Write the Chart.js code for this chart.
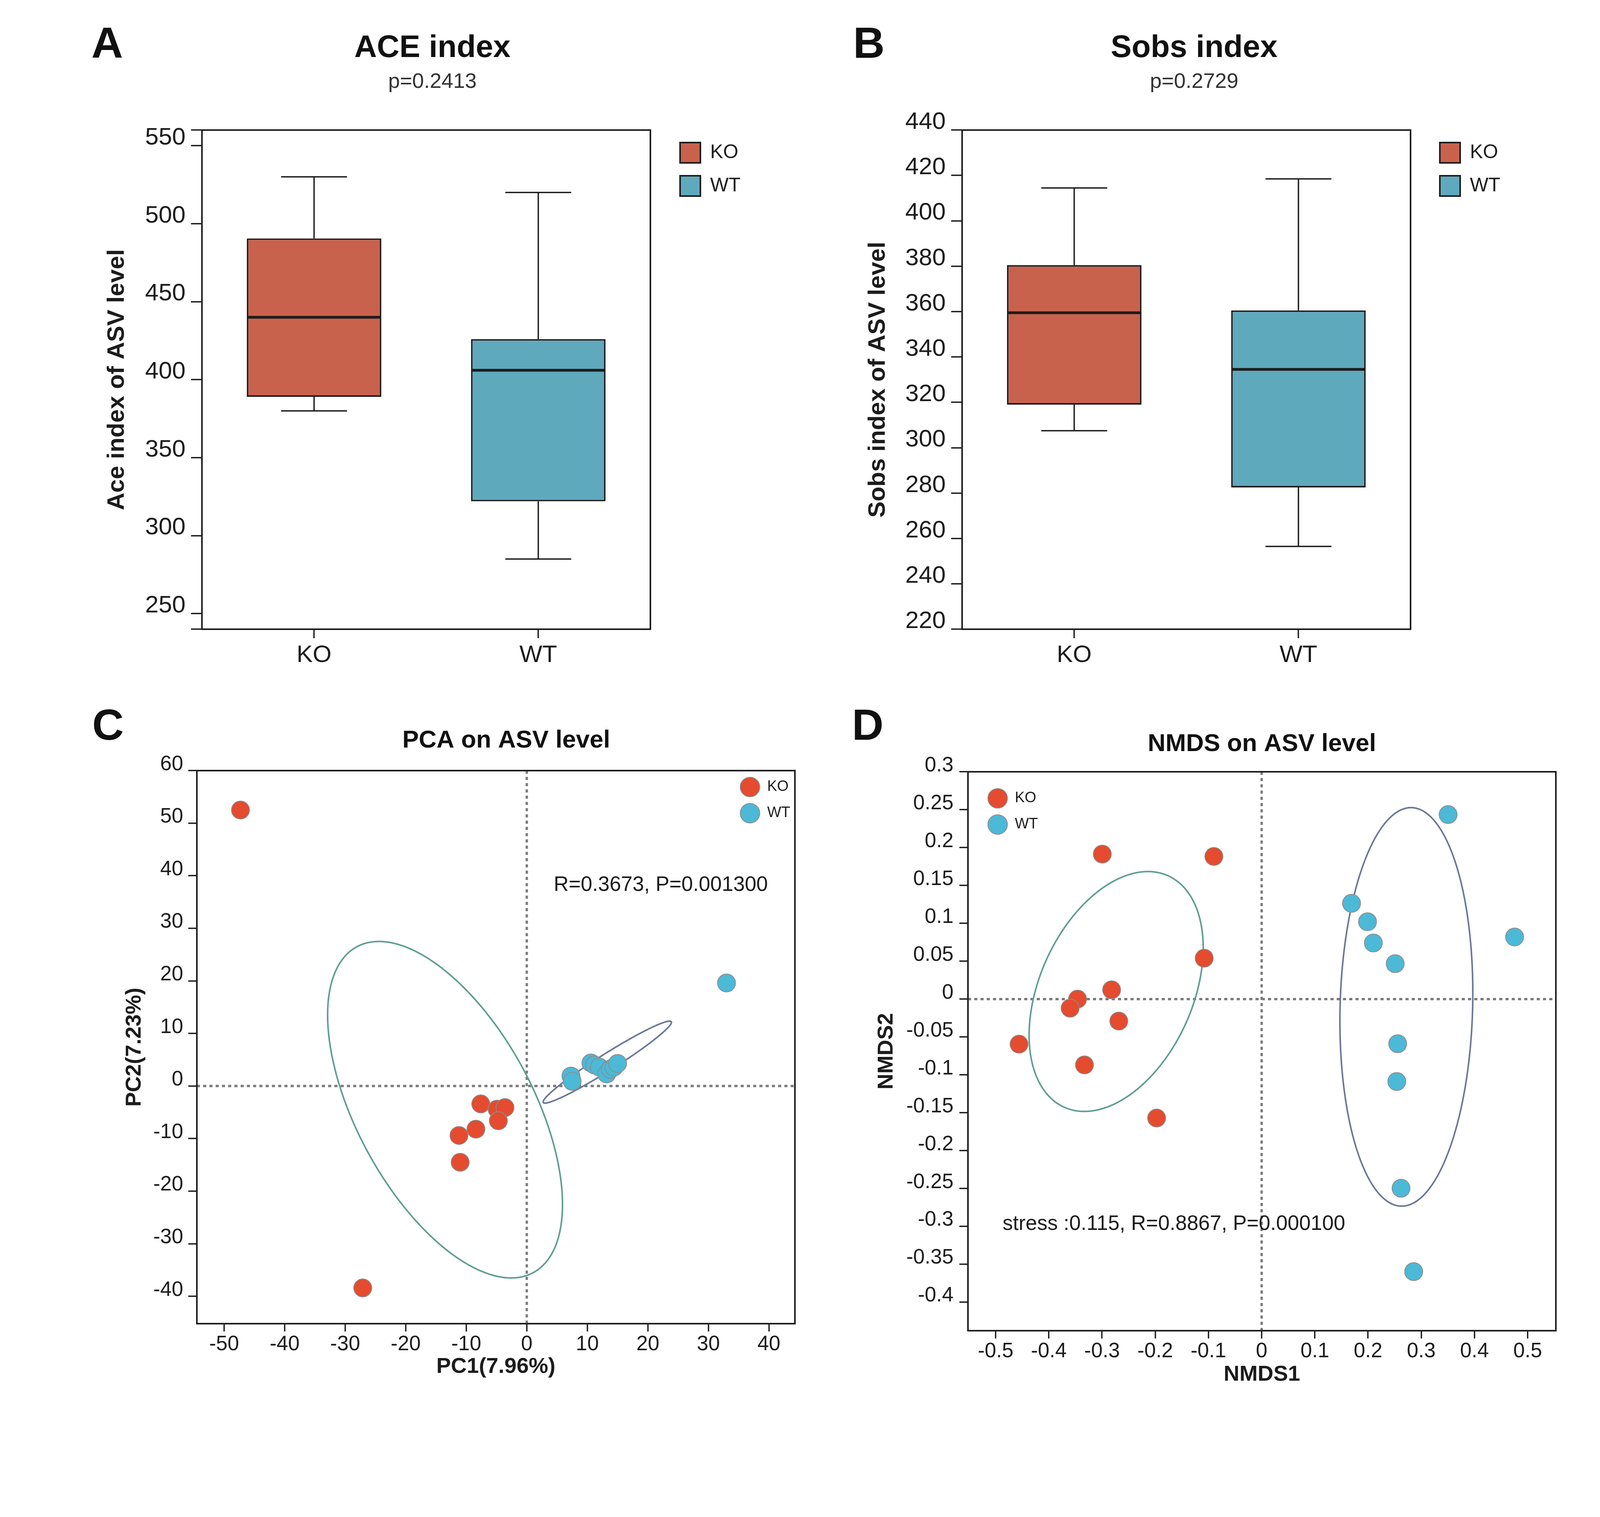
<!DOCTYPE html>
<html>
<head>
<meta charset="utf-8">
<script src="https://cdn.jsdelivr.net/npm/chart.js@4.4.1/dist/chart.umd.min.js"></script>
<style>
html,body{margin:0;padding:0;background:#fff;}
body{width:4534px;height:3884px;position:relative;overflow:hidden;}
canvas{position:absolute;}
.tag{position:absolute;font:bold 112px/1 'Liberation Sans',Arial,Helvetica,sans-serif;color:#111;}
</style>
</head>
<body>
<div class="tag" style="left:234px;top:54px">A</div>
<div class="tag" style="left:2184px;top:54px">B</div>
<div class="tag" style="left:236px;top:1800px">C</div>
<div class="tag" style="left:2181px;top:1800px">D</div>
<canvas id="cA" width="1814" height="1761" style="left:200px;top:0px"></canvas>
<canvas id="cB" width="1822" height="1761" style="left:2146px;top:0px"></canvas>
<canvas id="cC" width="2192" height="1820" style="left:200px;top:1780px"></canvas>
<canvas id="cD" width="2161" height="1840" style="left:2150px;top:1780px"></canvas>
<script>
// ---------------- data ----------------
const groups = ['KO', 'WT'];

// Panel A: ACE index (box plot statistics)
const aceMin    = [380, 285];
const aceQ1     = [389, 322];
const aceMedian = [440, 406];
const aceQ3     = [490.5, 426];
const aceMax    = [530, 520];
const aceTicks  = [250, 300, 350, 400, 450, 500, 550];
const aceRange  = [240, 560];

// Panel B: Sobs index
const sobsMin    = [307.5, 256.5];
const sobsQ1     = [319, 282.5];
const sobsMedian = [359.5, 334.5];
const sobsQ3     = [380.5, 360.5];
const sobsMax    = [414.5, 418.5];
const sobsTicks  = [220, 240, 260, 280, 300, 320, 340, 360, 380, 400, 420, 440];
const sobsRange  = [220, 440];

// Panel C: PCA
const pcaKoX = [-47.3, -27.1, -7.6, -4.9, -3.6, -4.7, -8.4, -11.2, -11.0];
const pcaKoY = [52.5, -38.4, -3.4, -4.4, -4.1, -6.6, -8.2, -9.4, -14.5];
const pcaWtX = [33.0, 7.3, 7.5, 10.6, 11.2, 12.0, 13.2, 13.8, 14.4, 15.0];
const pcaWtY = [19.6, 1.9, 0.9, 4.4, 4.0, 3.6, 2.3, 3.2, 3.6, 4.3];
const pcaXTicks = [-50, -40, -30, -20, -10, 0, 10, 20, 30, 40];
const pcaYTicks = [-40, -30, -20, -10, 0, 10, 20, 30, 40, 50, 60];
const pcaXRange = [-54.5, 44.3];
const pcaYRange = [-45.2, 60];
// confidence ellipses: [centerX, centerY, sdX, sdY, correlation]
const pcaKoEllipse = [-13.5, -4.5, 19.4, 32.0, -0.563];
const pcaWtEllipse = [13.3, 4.55, 10.6, 7.8, 0.971];

// Panel D: NMDS
const nmdsKoX = [-0.2995, -0.0898, -0.108, -0.282, -0.346, -0.36, -0.2685, -0.456, -0.333, -0.1974];
const nmdsKoY = [0.1914, 0.1883, 0.054, 0.0122, 0.0, -0.012, -0.029, -0.0595, -0.0869, -0.157];
const nmdsWtX = [0.3505, 0.169, 0.199, 0.210, 0.251, 0.4754, 0.2557, 0.254, 0.262, 0.2858];
const nmdsWtY = [0.2436, 0.1264, 0.102, 0.0741, 0.0468, 0.082, -0.0589, -0.1088, -0.2497, -0.3597];
const nmdsXTicks = [-0.5, -0.4, -0.3, -0.2, -0.1, 0, 0.1, 0.2, 0.3, 0.4, 0.5];
const nmdsYTicks = [-0.4, -0.35, -0.3, -0.25, -0.2, -0.15, -0.1, -0.05, 0, 0.05, 0.1, 0.15, 0.2, 0.25, 0.3];
const nmdsXRange = [-0.552, 0.553];
const nmdsYRange = [-0.4377, 0.3];
const nmdsKoEllipse = [-0.2735, 0.01, 0.1636, 0.1583, 0.365];
const nmdsWtEllipse = [0.272, -0.0103, 0.1249, 0.263, 0.07];

// ---------------- styling ----------------
const FONT = "'Liberation Sans', Arial, Helvetica, sans-serif";
const INK = '#1c1c1c';
const BOX_FILL = ['#C9624D', '#5FA9BD'];
const PT_FILL = ['#E54B2F', '#4CB9D7'];
const PT_EDGE = '#8c8c8c';
const ELL_COL = ['#5E9E92', '#6A7796'];
Chart.defaults.font.family = FONT;
Chart.defaults.color = INK;

// ---------------- plugins (factories) ----------------
function legendPlacer(reserve, x, y) {
  return {
    id: 'legendPlacer',
    afterInit(chart) {
      const lg = chart.legend;
      if (!lg) return;
      const fit = lg.fit;
      lg.fit = function () { fit.call(this); this.width = reserve; };
    },
    afterLayout(chart) {
      const lg = chart.legend;
      if (!lg) return;
      lg.left = x; lg.top = y; lg.right = x + 700; lg.bottom = y + 400;
      lg.width = 700; lg.height = 400;
    }
  };
}
function framePlugin(width) {
  return {
    id: 'frame',
    afterDraw(chart) {
      const { ctx, chartArea: c } = chart;
      ctx.save();
      ctx.lineWidth = width; ctx.strokeStyle = INK;
      ctx.strokeRect(c.left, c.top, c.right - c.left, c.bottom - c.top);
      ctx.restore();
    }
  };
}
function whiskerPlugin(st) {
  return {
    id: 'boxWhiskers',
    afterDatasetsDraw(chart) {
      const { ctx } = chart;
      const xs = chart.scales.x, ys = chart.scales.y;
      ctx.save();
      ctx.strokeStyle = INK;
      st.min.forEach((_, i) => {
        const el = chart.getDatasetMeta(i).data[i];
        const cx = xs.getPixelForValue(i);
        const half = el.width / 2, cap = el.width * 0.49 / 2;
        const yMin = ys.getPixelForValue(st.min[i]), yMax = ys.getPixelForValue(st.max[i]);
        const yQ1 = ys.getPixelForValue(st.q1[i]), yQ3 = ys.getPixelForValue(st.q3[i]);
        const yMed = ys.getPixelForValue(st.median[i]);
        ctx.lineWidth = 3.5;
        ctx.beginPath();
        ctx.moveTo(cx, yQ3); ctx.lineTo(cx, yMax);
        ctx.moveTo(cx - cap, yMax); ctx.lineTo(cx + cap, yMax);
        ctx.moveTo(cx, yQ1); ctx.lineTo(cx, yMin);
        ctx.moveTo(cx - cap, yMin); ctx.lineTo(cx + cap, yMin);
        ctx.stroke();
        ctx.lineWidth = 7;
        ctx.beginPath();
        ctx.moveTo(cx - half + 2, yMed); ctx.lineTo(cx + half - 2, yMed);
        ctx.stroke();
      });
      ctx.restore();
    }
  };
}
function ellipsePlugin(items) {
  return {
    id: 'ellipses',
    beforeDatasetsDraw(chart) {
      const { ctx, chartArea: a } = chart;
      const xs = chart.scales.x, ys = chart.scales.y;
      ctx.save();
      ctx.beginPath(); ctx.rect(a.left, a.top, a.right - a.left, a.bottom - a.top); ctx.clip();
      // dotted zero reference lines
      const x0 = xs.getPixelForValue(0), y0 = ys.getPixelForValue(0);
      ctx.setLineDash([8, 8]); ctx.lineWidth = 6; ctx.strokeStyle = '#7b7b7b';
      ctx.beginPath();
      ctx.moveTo(x0, a.top); ctx.lineTo(x0, a.bottom);
      ctx.moveTo(a.left, y0); ctx.lineTo(a.right, y0);
      ctx.stroke();
      ctx.setLineDash([]);
      items.forEach(([e, color]) => {
        const [cx, cy, sx, sy, r] = e;
        const q = Math.sqrt(1 - r * r);
        ctx.beginPath();
        for (let k = 0; k <= 360; k++) {
          const t = k / 360 * 2 * Math.PI;
          const px = xs.getPixelForValue(cx + sx * Math.cos(t));
          const py = ys.getPixelForValue(cy + sy * (r * Math.cos(t) + q * Math.sin(t)));
          if (k === 0) ctx.moveTo(px, py); else ctx.lineTo(px, py);
        }
        ctx.closePath();
        ctx.lineWidth = 4; ctx.strokeStyle = color; ctx.stroke();
      });
      ctx.restore();
    }
  };
}
function notePlugin(text, x, y, size) {
  return {
    id: 'note',
    afterDatasetsDraw(chart) {
      const { ctx } = chart;
      ctx.save();
      ctx.font = size + 'px ' + FONT;
      ctx.fillStyle = INK; ctx.textAlign = 'left'; ctx.textBaseline = 'middle';
      ctx.fillText(text, chart.scales.x.getPixelForValue(x), chart.scales.y.getPixelForValue(y));
      ctx.restore();
    }
  };
}

// ---------------- box plots ----------------
function boxChart(id, P) {
  const tickSet = [...new Set([P.range[0], ...P.ticks, P.range[1]])];
  return new Chart(document.getElementById(id), {
    type: 'bar',
    data: {
      labels: groups,
      datasets: groups.map((g, i) => ({
        label: g,
        data: groups.map((_, j) => (j === i ? [P.st.q1[j], P.st.q3[j]] : null)),
        backgroundColor: BOX_FILL[i],
        borderColor: INK,
        borderWidth: 4,
        borderSkipped: false,
        grouped: false,
        barPercentage: 0.6,
        categoryPercentage: 1.0
      }))
    },
    options: {
      responsive: false, animation: false, devicePixelRatio: 1, events: [],
      layout: { padding: 0 },
      scales: {
        x: {
          type: 'category', offset: true,
          grid: { display: true, drawOnChartArea: false, drawTicks: true, tickLength: 23, offset: false, color: INK, lineWidth: 3.5 },
          border: { display: false },
          ticks: { font: { size: 62 }, color: INK, padding: 7, maxRotation: 0, autoSkip: false },
          afterFit: s => { s.height = 150; }
        },
        y: {
          type: 'linear', min: P.range[0], max: P.range[1],
          grid: { display: true, drawOnChartArea: false, drawTicks: true, tickLength: 28, color: INK, lineWidth: 3.5 },
          border: { display: false },
          ticks: { font: { size: 62 }, color: INK, padding: 14, labelOffset: -20, autoSkip: false,
                   callback: v => (P.ticks.includes(v) ? String(v) : '') },
          afterBuildTicks: s => { s.ticks = tickSet.map(v => ({ value: v })); },
          title: { display: true, text: P.ytitle, font: { size: 62, weight: 'bold' }, color: INK, padding: { top: P.ytpad, bottom: 0 } },
          afterFit: s => { s.width = 317; }
        }
      },
      plugins: {
        title: { display: true, text: P.title, font: { size: 80, weight: 'bold' }, color: '#111', padding: { top: 76, bottom: 0 } },
        subtitle: { display: true, text: P.p, font: { size: 54 }, color: '#333', padding: { top: 5.6, bottom: 90.6 } },
        legend: { display: true, position: 'right', align: 'start',
                  labels: { boxWidth: 52, boxHeight: 52, padding: 33, font: { size: 50 }, color: INK } },
        tooltip: { enabled: false }
      }
    },
    plugins: [legendPlacer(P.lw, P.lx, P.ly), whiskerPlugin(P.st), framePlugin(4)]
  });
}

boxChart('cA', {
  title: 'ACE index', p: 'p=0.2413', ytitle: 'Ace index of ASV level', ytpad: 62.8,
  ticks: aceTicks, range: aceRange, lw: 349, lx: 1508, ly: 332,
  st: { min: aceMin, q1: aceQ1, median: aceMedian, q3: aceQ3, max: aceMax }
});
boxChart('cB', {
  title: 'Sobs index', p: 'p=0.2729', ytitle: 'Sobs index of ASV level', ytpad: 64.8,
  ticks: sobsTicks, range: sobsRange, lw: 357, lx: 1507, ly: 332,
  st: { min: sobsMin, q1: sobsQ1, median: sobsMedian, q3: sobsQ3, max: sobsMax }
});

// ---------------- scatter plots ----------------
function scatterChart(id, S) {
  const pts = (xs, ys) => xs.map((x, i) => ({ x: x, y: ys[i] }));
  return new Chart(document.getElementById(id), {
    type: 'scatter',
    data: {
      datasets: [
        { label: 'KO', data: pts(S.koX, S.koY), backgroundColor: PT_FILL[0], borderColor: PT_EDGE, borderWidth: 2, pointRadius: 23, pointHoverRadius: 23 },
        { label: 'WT', data: pts(S.wtX, S.wtY), backgroundColor: PT_FILL[1], borderColor: PT_EDGE, borderWidth: 2, pointRadius: 23, pointHoverRadius: 23 }
      ]
    },
    options: {
      responsive: false, animation: false, devicePixelRatio: 1, events: [],
      layout: { padding: 0 },
      scales: {
        x: {
          type: 'linear', position: 'bottom', min: S.xRange[0], max: S.xRange[1],
          grid: { display: true, drawOnChartArea: false, drawTicks: true, tickLength: 20, color: INK, lineWidth: 3.5 },
          border: { display: false },
          ticks: { font: { size: 53 }, color: INK, padding: 2, autoSkip: false, maxRotation: 0, callback: v => String(v) },
          afterBuildTicks: s => { s.ticks = S.xTicks.map(v => ({ value: v })); },
          title: { display: true, text: S.xTitle, font: { size: 56, weight: 'bold' }, color: INK, padding: { top: 0, bottom: 66.4 } },
          afterFit: s => { s.height = S.H; }
        },
        y: {
          type: 'linear', position: 'left', min: S.yRange[0], max: S.yRange[1],
          grid: { display: true, drawOnChartArea: false, drawTicks: true, tickLength: 22, color: INK, lineWidth: 3.5 },
          border: { display: false },
          ticks: { font: { size: 53 }, color: INK, padding: S.ypad, labelOffset: -16, autoSkip: false, callback: v => String(v) },
          afterBuildTicks: s => { s.ticks = S.yTicks.map(v => ({ value: v })); },
          title: { display: true, text: S.yTitle, font: { size: 56, weight: 'bold' }, color: INK, padding: { top: S.ytpad, bottom: 0 } },
          afterFit: s => { s.width = S.W; }
        }
      },
      plugins: {
        title: { display: true, text: S.title, font: { size: 63, weight: 'bold' }, color: '#111', padding: { top: S.tpt, bottom: S.tpb } },
        legend: { display: true, position: 'right', align: 'start',
                  labels: { usePointStyle: true, pointStyle: 'circle', pointStyleWidth: 50, boxHeight: 35.36, boxWidth: 50,
                            padding: 29, font: { size: 38 }, color: INK } },
        tooltip: { enabled: false }
      }
    },
    plugins: [legendPlacer(S.lw, S.lx, S.ly), ellipsePlugin(S.ellipses), notePlugin(S.note, S.noteX, S.noteY, 53), framePlugin(4)]
  });
}

scatterChart('cC', {
  title: 'PCA on ASV level', xTitle: 'PC1(7.96%)', yTitle: 'PC2(7.23%)',
  koX: pcaKoX, koY: pcaKoY, wtX: pcaWtX, wtY: pcaWtY,
  xTicks: pcaXTicks, yTicks: pcaYTicks, xRange: pcaXRange, yRange: pcaYRange,
  ellipses: [[pcaKoEllipse, ELL_COL[0]], [pcaWtEllipse, ELL_COL[1]]],
  note: 'R=0.3673, P=0.001300', noteX: 4.45, noteY: 38.2,
  W: 304, H: 211, ypad: 13, ytpad: 111.4, tpt: 79.2, tpb: 38.2,
  lw: 357, lx: 1666, ly: 187
});
scatterChart('cD', {
  title: 'NMDS on ASV level', xTitle: 'NMDS1', yTitle: 'NMDS2',
  koX: nmdsKoX, koY: nmdsKoY, wtX: nmdsWtX, wtY: nmdsWtY,
  xTicks: nmdsXTicks, yTicks: nmdsYTicks, xRange: nmdsXRange, yRange: nmdsYRange,
  ellipses: [[nmdsKoEllipse, ELL_COL[0]], [nmdsWtEllipse, ELL_COL[1]]],
  note: 'stress :0.115, R=0.8867, P=0.000100', noteX: -0.487, noteY: -0.2974,
  W: 328, H: 213, ypad: 15, ytpad: 86.4, tpt: 88.2, tpb: 32.2,
  lw: 328, lx: 350, ly: 216
});
</script>
</body>
</html>
